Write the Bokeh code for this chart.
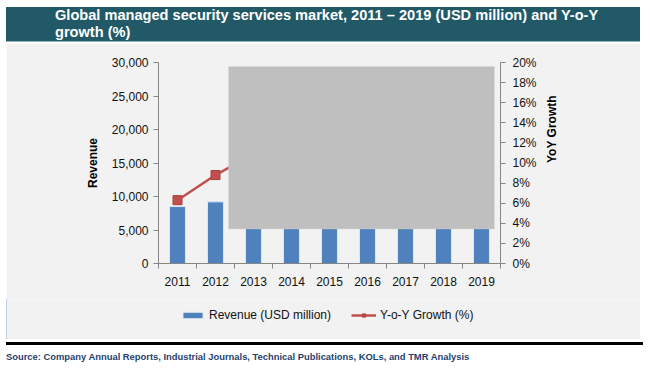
import math
from bokeh.plotting import figure
from bokeh.layouts import column
from bokeh.models import (Range1d, LinearAxis, FixedTicker, NumeralTickFormatter,
                          PrintfTickFormatter, BoxAnnotation, Legend, LegendItem,
                          ColumnDataSource, Div)
from bokeh.embed import file_html
from bokeh.resources import INLINE

# ---- data (values hidden behind the grey box are estimates) ----
years = [2011, 2012, 2013, 2014, 2015, 2016, 2017, 2018, 2019]
revenue = [8500, 9200, 10200, 11250, 12450, 13800, 15300, 17000, 18900]
growth = [6.3, 8.8, 10.9, 10.3, 10.7, 10.8, 10.9, 11.1, 11.2]
y_ticks = [0, 5000, 10000, 15000, 20000, 25000, 30000]
pct_ticks = [0, 2, 4, 6, 8, 10, 12, 14, 16, 18, 20]

title_lines = ["Global managed security services market, 2011 \u2013 2019 (USD million) and Y-o-Y",
               "growth (%)"]
source_text = "Source: Company Annual Reports, Industrial Journals, Technical Publications, KOLs, and TMR Analysis"

pos = list(range(1, len(years) + 1))
src = ColumnDataSource(dict(x=pos, rev=revenue, g=growth))

FONT = "Liberation Sans"
PANEL = "#f2f2f2"
BAR = "#4f81bd"
RED = "#c0504d"

banner = Div(text='<div style="padding:0 0 0 49px; line-height:16.5px; font-family:\'Liberation Sans\';'
                  ' font-size:14.6px; font-weight:bold; color:white; white-space:nowrap;">'
                  + title_lines[0] + "<br>" + title_lines[1] + "</div>",
             width=634, height=35, margin=(7, 0, 0, 6),
             styles={"background-color": "#215967", "border-bottom": "1px solid #8fb0bc"})

p = figure(width=634, height=256, output_backend="svg", toolbar_location=None,
           x_range=Range1d(0.5, len(years) + 0.5), y_range=Range1d(0, 30000),
           min_border_left=152, min_border_right=140, min_border_top=19, min_border_bottom=36,
           background_fill_color=PANEL, border_fill_color=PANEL, outline_line_color=None,
           margin=(1, 0, 0, 6))
p.xaxis.visible = False
p.yaxis.visible = False
p.xgrid.visible = False
p.ygrid.visible = False
p.extra_y_ranges = {"pct": Range1d(0, 20)}

# ---- axes ----
ax_col = "#868686"
left = LinearAxis(ticker=FixedTicker(ticks=y_ticks), formatter=NumeralTickFormatter(format="0,0"),
                  axis_label="Revenue")
right = LinearAxis(y_range_name="pct", ticker=FixedTicker(ticks=pct_ticks),
                   formatter=PrintfTickFormatter(format="%d%%"), axis_label="YoY Growth")
bottom = LinearAxis(ticker=FixedTicker(ticks=pos, minor_ticks=[x - 0.5 for x in pos] + [pos[-1] + 0.5]),
                    major_label_overrides={x: str(y) for x, y in zip(pos, years)})
for ax in (left, right, bottom):
    ax.axis_line_color = ax_col
    ax.major_tick_line_color = ax_col
    ax.minor_tick_line_color = None
    ax.major_tick_in = 0
    ax.major_tick_out = 5
    ax.major_label_text_font = FONT
    ax.major_label_text_font_size = "12px"
    ax.major_label_text_color = "#111111"
    ax.axis_label_text_font = FONT
    ax.axis_label_text_font_size = "12px"
    ax.axis_label_text_font_style = "bold"
    ax.axis_label_text_color = "black"
left.major_label_standoff = 5
left.axis_label_standoff = 9
right.major_label_standoff = 7
right.axis_label_standoff = 12
if "axis_label_orientation" in right.properties():
    right.axis_label_orientation = math.pi / 2
bottom.major_tick_line_color = None
bottom.major_tick_out = 0
bottom.minor_tick_line_color = ax_col
bottom.minor_tick_in = 0
bottom.minor_tick_out = 5
bottom.major_label_standoff = 8
p.add_layout(left, "left")
p.add_layout(right, "right")
p.add_layout(bottom, "below")

# ---- glyphs ----
p.vbar(x="x", top="rev", width=0.42, source=src, fill_color=BAR, line_color="#dce6f2", line_width=1)
p.line(x="x", y="g", source=src, y_range_name="pct", line_color=RED, line_width=2.5)
p.scatter(x="x", y="g", source=src, y_range_name="pct", marker="square", size=9,
          fill_color=RED, line_color="#b03c39")

# grey mask box over the chart (as in the reference)
p.add_layout(BoxAnnotation(left=222, right=488, top=23, bottom=185.5, left_units="canvas",
                           right_units="canvas", top_units="canvas", bottom_units="canvas",
                           fill_color="#bfbfbf", fill_alpha=1, line_color="#d9d9d9",
                           line_width=1, level="overlay"))

# ---- legend strip (its glyphs lie outside the visible range; only the legend shows) ----
lg = figure(width=634, height=40, output_backend="svg", toolbar_location=None,
            x_range=Range1d(100, 101), y_range=Range1d(100, 101),
            x_axis_location=None, y_axis_location=None,
            min_border=0, background_fill_color=PANEL, border_fill_color=PANEL,
            outline_line_color=None, margin=(0, 0, 0, 6))
lg.grid.visible = False
legend_x = 22
if "frame_align" in lg.properties():
    lg.frame_align = False
    legend_x = 174
lb = lg.vbar(x="x", top="rev", width=0.42, source=src, fill_color=BAR, line_color="#dce6f2")
ll = lg.line(x="x", y="g", source=src, line_color=RED, line_width=2.5)
lm = lg.scatter(x="x", y="g", source=src, marker="square", size=8,
                fill_color=RED, line_color="#b03c39")
legend = Legend(items=[LegendItem(label="Revenue (USD million)", renderers=[lb]),
                       LegendItem(label="Y-o-Y Growth (%)", renderers=[ll, lm])],
                location=(legend_x, 17), orientation="horizontal", padding=0, margin=0,
                border_line_color=None, background_fill_alpha=0, glyph_width=25,
                glyph_height=8, label_standoff=4, spacing=20,
                label_text_font=FONT, label_text_font_size="12px", label_text_color="#111111")
lg.add_layout(legend)

rule = Div(text="", width=637, height=3, margin=(3, 0, 0, 6),
           styles={"background-color": "black"})
source = Div(text='<div style="font-family:\'Liberation Sans\'; font-size:9.4px; font-weight:bold;'
                  ' color:#1f3f6e; line-height:11px; white-space:nowrap;">' + source_text + "</div>",
             width=637, height=12, margin=(3, 0, 0, 6))

layout = column(banner, p, lg, rule, source, spacing=0, margin=0)
open("out.html", "w").write(file_html(layout, INLINE))
